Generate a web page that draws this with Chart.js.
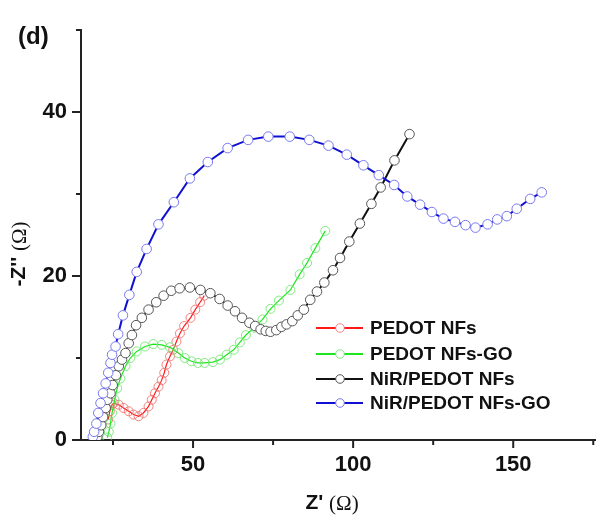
<!DOCTYPE html>
<html>
<head>
<meta charset="utf-8">
<script src="https://cdn.jsdelivr.net/npm/chart.js@4.4.1/dist/chart.umd.min.js"></script>
<style>
  html, body { margin: 0; padding: 0; background: #fff; }
  canvas { display: block; }
</style>
</head>
<body>
<canvas id="myChart" width="601" height="516"></canvas>
<script>
// Nyquist plots, Z' vs -Z'' (ohm)

const seriesNames = ['PEDOT NFs', 'PEDOT NFs-GO', 'NiR/PEDOT NFs', 'NiR/PEDOT NFs-GO'];

const pedotX = [23.5, 24.0, 24.7, 25.2, 26.8, 28.3, 29.9, 31.4, 33.0, 34.5, 36.1, 37.1, 38.1, 39.2, 40.2, 41.0, 41.7, 42.8, 43.8, 44.8, 45.9, 47.2, 49.2, 50.7, 52.2, 53.5];
const pedotY = [2.5, 3.5, 4.3, 4.5, 4.3, 3.9, 3.5, 3.1, 2.9, 3.3, 4.1, 4.9, 5.7, 6.5, 7.3, 8.2, 9.2, 10.2, 11.0, 12.0, 13.0, 13.9, 14.9, 15.9, 16.8, 17.6];

const pedotGoX = [23.2, 23.7, 24.2, 24.7, 25.5, 26.3, 27.3, 28.9, 30.4, 32.4, 35.0, 37.6, 40.2, 42.8, 45.4, 47.4, 49.5, 51.5, 53.6, 56.2, 58.4, 60.5, 62.7, 64.6, 66.5, 69.1, 71.7, 74.2, 76.8, 80.4, 83.3, 85.6, 88.2, 91.3];
const pedotGoY = [0.3, 1.0, 2.0, 3.3, 4.9, 6.3, 7.5, 9.0, 10.0, 10.8, 11.4, 11.7, 11.6, 11.3, 10.6, 10.0, 9.6, 9.4, 9.4, 9.5, 9.8, 10.4, 11.0, 11.9, 12.8, 13.7, 14.7, 16.0, 17.0, 18.3, 20.2, 21.6, 23.4, 25.5];

const nirX = [20.1, 20.6, 21.3, 21.9, 22.7, 23.2, 24.2, 24.9, 25.9, 26.8, 27.8, 28.9, 29.9, 30.9, 32.2, 34.0, 36.1, 38.5, 40.8, 43.2, 45.8, 49.0, 52.3, 55.4, 58.3, 60.8, 63.1, 65.3, 67.6, 69.4, 71.1, 72.7, 74.2, 76.0, 77.6, 79.2, 81.0, 82.7, 84.6, 86.6, 88.7, 91.0, 93.7, 95.9, 98.8, 102.1, 105.7, 108.6, 112.9, 117.6];
const nirY = [0.4, 1.0, 1.8, 2.8, 3.9, 4.9, 5.7, 6.7, 7.9, 9.0, 9.8, 10.6, 11.8, 12.8, 14.0, 14.9, 15.9, 16.8, 17.6, 18.2, 18.5, 18.6, 18.3, 17.9, 17.2, 16.4, 15.7, 14.9, 14.3, 13.9, 13.5, 13.3, 13.2, 13.4, 13.8, 14.1, 14.5, 15.2, 15.9, 17.1, 18.1, 19.2, 20.7, 22.2, 24.2, 26.4, 28.8, 30.8, 34.1, 37.3];

const nirGoX = [18.7, 19.1, 19.8, 20.4, 21.1, 21.9, 22.7, 23.5, 24.2, 24.7, 25.8, 26.6, 28.1, 30.1, 32.4, 35.5, 39.2, 44.0, 49.0, 54.6, 60.8, 67.2, 73.5, 80.2, 86.3, 92.3, 98.0, 103.2, 108.0, 112.8, 116.9, 120.9, 124.6, 128.2, 131.8, 135.1, 138.2, 142.0, 145.0, 148.0, 151.1, 155.3, 158.9];
const nirGoY = [0.4, 1.0, 2.0, 3.3, 4.5, 5.7, 6.9, 8.2, 9.4, 10.4, 11.4, 12.9, 15.2, 17.7, 20.5, 23.3, 26.3, 29.0, 31.9, 33.9, 35.6, 36.6, 37.0, 37.0, 36.6, 35.9, 34.8, 33.5, 32.3, 31.1, 29.7, 28.7, 27.8, 27.0, 26.6, 26.2, 25.9, 26.3, 26.9, 27.3, 28.2, 29.4, 30.2];

const xTickLabels = [50, 100, 150];
const xMinorTicks = [25, 75, 125, 175];
const yTickLabels = [0, 20, 40];
const yMinorTicks = [10, 30, 50];

const lineColors = ['#ff1a1a', '#1ee61e', '#111111', '#1010d0'];
const markerColors = ['rgba(240,110,110,0.85)', 'rgba(110,230,110,0.85)', '#555555', '#7878f0'];
const markerFill = ['rgba(255,255,255,0)', 'rgba(255,255,255,0)', '#ffffff', '#ffffff'];

const FONT = '"Liberation Sans", Arial, sans-serif';
const SERIF = '"Liberation Serif", "Times New Roman", serif';

function toPoints(xs, ys) {
  return xs.map((x, i) => ({ x: x, y: ys[i] }));
}

const allX = [pedotX, pedotGoX, nirX, nirGoX];
const allY = [pedotY, pedotGoY, nirY, nirGoY];

const datasets = seriesNames.map((name, i) => ({
  label: name,
  data: toPoints(allX[i], allY[i]),
  showLine: true,
  borderColor: lineColors[i],
  borderWidth: i < 2 ? 1.2 : 2,
  pointBorderColor: markerColors[i],
  pointBackgroundColor: markerFill[i],
  pointBorderWidth: 1,
  pointRadius: i < 2 ? 4.5 : 4.8,
  pointHoverRadius: 4.8,
  tension: 0,
  order: 4 - i
}));

// draws "label (Ω)" with a sans bold part and a serif omega part, centred on 0
function drawUnitTitle(ctx, text, size) {
  ctx.font = 'bold ' + size + 'px ' + FONT;
  const w1 = ctx.measureText(text).width;
  ctx.font = size + 'px ' + SERIF;
  const w2 = ctx.measureText('(\u03A9)').width;
  const sx = -(w1 + w2) / 2;
  ctx.font = 'bold ' + size + 'px ' + FONT;
  ctx.fillText(text, sx, 0);
  ctx.font = size + 'px ' + SERIF;
  ctx.fillText('(\u03A9)', sx + w1, 1);
}

// axis ticks (outward, major + minor), titles, panel letter, legend
const extras = {
  id: 'extras',
  afterDraw(chart) {
    const { ctx, chartArea, scales } = chart;
    const xs = scales.x, ys = scales.y;
    ctx.save();
    ctx.strokeStyle = '#222';
    ctx.lineWidth = 2;
    ctx.beginPath();
    yTickLabels.concat(yMinorTicks).forEach(v => {
      const len = yTickLabels.includes(v) ? 9 : 5;
      const py = ys.getPixelForValue(v);
      ctx.moveTo(chartArea.left - len, py);
      ctx.lineTo(chartArea.left, py);
    });
    xTickLabels.concat(xMinorTicks).forEach(v => {
      const len = xTickLabels.includes(v) ? 8 : 5;
      const px = xs.getPixelForValue(v);
      ctx.moveTo(px, chartArea.bottom);
      ctx.lineTo(px, chartArea.bottom + len);
    });
    ctx.stroke();

    ctx.fillStyle = '#111';
    ctx.textBaseline = 'middle';
    ctx.textAlign = 'left';

    // panel letter
    ctx.font = 'bold 24px ' + FONT;
    ctx.fillText('(d)', 18, 37);

    // x title
    ctx.save();
    ctx.translate(332, 503);
    drawUnitTitle(ctx, "Z' ", 21);
    ctx.restore();

    // y title
    ctx.save();
    ctx.translate(19, 254);
    ctx.rotate(-Math.PI / 2);
    drawUnitTitle(ctx, "-Z'' ", 21);
    ctx.restore();

    // legend
    const rows = [328, 354, 379, 403];
    chart.data.datasets.forEach((ds, i) => {
      const yRow = rows[i];
      ctx.strokeStyle = ds.borderColor;
      ctx.lineWidth = 2;
      ctx.beginPath();
      ctx.moveTo(316, yRow);
      ctx.lineTo(363, yRow);
      ctx.stroke();
      ctx.beginPath();
      ctx.arc(340, yRow, 4.3, 0, Math.PI * 2);
      ctx.fillStyle = '#fff';
      ctx.fill();
      ctx.strokeStyle = ds.pointBorderColor;
      ctx.lineWidth = 1;
      ctx.stroke();
      ctx.fillStyle = '#111';
      ctx.font = 'bold 19px ' + FONT;
      ctx.fillText(ds.label, 370, yRow + 1);
    });
    ctx.restore();
  }
};

const chart = new Chart(document.getElementById('myChart'), {
  type: 'scatter',
  data: { datasets: datasets },
  options: {
    responsive: false,
    animation: false,
    devicePixelRatio: 1,
    layout: { padding: { top: 30, right: 0, bottom: 0, left: 0 } },
    plugins: {
      legend: { display: false },
      tooltip: { enabled: false }
    },
    scales: {
      x: {
        type: 'linear',
        min: 15,
        max: 175.6,
        afterFit(s) { s.height = 76; },
        afterBuildTicks(s) { s.ticks = xTickLabels.map(v => ({ value: v })); },
        grid: { display: false, drawTicks: false },
        border: { display: true, color: '#222', width: 2 },
        ticks: {
          padding: 12,
          color: '#111',
          font: { family: FONT, size: 22, weight: 'bold' }
        }
      },
      y: {
        type: 'linear',
        min: 0,
        max: 50,
        afterFit(s) { s.width = 81; },
        afterBuildTicks(s) { s.ticks = yTickLabels.map(v => ({ value: v })); },
        grid: { display: false, drawTicks: false },
        border: { display: true, color: '#222', width: 2 },
        ticks: {
          padding: 14,
          color: '#111',
          font: { family: FONT, size: 22, weight: 'bold' }
        }
      }
    }
  },
  plugins: [extras]
});
</script>
</body>
</html>
